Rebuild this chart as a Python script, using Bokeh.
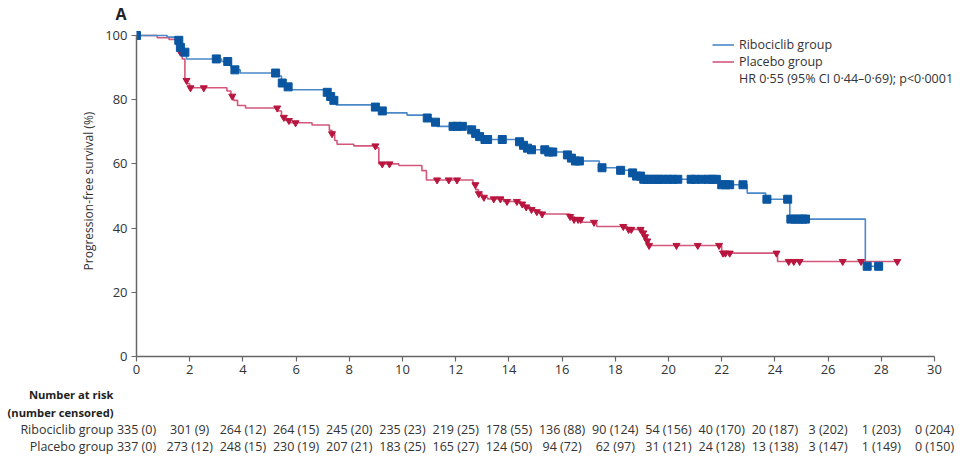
import numpy as np
from bokeh.plotting import figure
from bokeh.models import Range1d, Legend, LegendItem, FixedTicker
from bokeh.embed import file_html
from bokeh.resources import INLINE
from bokeh.core.properties import value

# ---------------- data ----------------
rib_step_t = [0, 1.15, 1.55, 1.65, 1.78, 1.88, 3.2, 3.55, 3.7, 3.9, 5.3, 5.45, 5.6, 5.75,
              7.15, 7.3, 7.4, 7.5, 8.95, 9.15, 9.3, 10.17, 10.85, 11.1, 11.3, 12.6, 12.75,
              12.9, 13.05, 14.4, 14.55, 14.7, 14.85, 15.5, 16.2, 16.35, 16.5, 17.4, 18.15,
              18.65, 18.8, 19.0, 21.9, 22.96, 23.65, 24.56, 27.4]
rib_step_s = [100, 99.5, 98.5, 96.3, 94.8, 92.7, 91.9, 90.2, 89.3, 88.3, 87.4, 85.2, 84.0, 83.1,
              82.3, 81.0, 79.8, 78.4, 77.7, 76.5, 75.9, 75.2, 74.3, 73.0, 71.7, 70.6, 69.5,
              68.5, 67.6, 66.9, 65.8, 64.9, 64.4, 63.7, 62.8, 61.8, 60.9, 58.8, 58.0,
              57.2, 56.2, 55.2, 53.5, 50.9, 49.0, 42.8, 28.1]
rib_end = 27.9
rib_cens = [0, 1.59, 1.65, 1.82, 3.0, 3.43, 3.7, 5.23, 5.48, 5.7, 7.17, 7.3, 7.42, 8.98, 9.24,
            10.93, 11.24, 11.9, 12.05, 12.25, 12.6, 12.75, 12.9, 13.1, 13.2, 13.75, 14.4,
            14.55, 14.7, 14.85, 15.35, 15.5, 15.65, 16.2, 16.35, 16.5, 16.65, 17.5, 18.2,
            18.65, 18.8, 18.95, 19.07, 19.2, 19.35, 19.5, 19.65, 19.8, 20.0, 20.15, 20.35,
            20.85, 21.0, 21.25, 21.5, 21.65, 21.8, 22.0, 22.15, 22.3, 22.8, 23.7, 24.48,
            24.6, 24.75, 24.9, 25.05, 25.15, 27.47, 27.9]

pla_step_t = [0, 0.78, 1.22, 1.55, 1.62, 1.72, 1.82, 1.9, 2.0, 3.4, 3.55, 3.65, 3.8, 4.1,
              5.3, 5.45, 5.6, 5.75, 6.6, 7.25, 7.35, 7.45, 7.54, 8.17, 9.0, 9.11, 9.86,
              10.73, 10.9, 12.65, 12.75, 12.85, 13.0, 13.2, 13.8, 14.45, 14.6, 14.8, 15.0,
              15.25, 16.3, 16.45, 16.75, 17.3, 18.45, 19.05, 19.12, 19.2, 19.27, 22.0, 24.1]
pla_step_s = [100, 99.3, 98.8, 97.0, 94.8, 92.7, 86.0, 85.0, 83.7, 82.7, 81.1, 79.8, 78.2, 77.4,
              76.5, 74.5, 73.5, 72.8, 72.1, 70.5, 69.4, 67.3, 66.1, 65.6, 65.0, 60.0, 59.5,
              57.9, 55.0, 53.5, 52.0, 50.7, 49.6, 49.1, 48.3, 47.5, 46.6, 45.8, 45.1,
              44.4, 43.6, 42.7, 41.8, 40.5, 39.6, 38.5, 37.3, 36.0, 34.6, 32.2, 29.6]
pla_end = 28.6
pla_cens = [1.65, 1.88, 2.03, 2.53, 3.6, 5.29, 5.54, 5.73, 5.98, 7.35, 8.98, 9.24, 9.51,
            11.3, 11.74, 12.05, 12.74, 12.87, 13.06, 13.43, 13.68, 13.93, 14.3, 14.5, 14.65,
            14.85, 15.05, 15.25, 16.3, 16.45, 16.6, 16.7, 17.2, 18.3, 18.5, 18.6, 18.95,
            19.05, 19.12, 19.2, 19.27, 20.3, 21.1, 21.9, 22.05, 22.14, 22.3, 24.06, 24.52,
            24.71, 24.93, 26.55, 27.24, 28.6]

x_ticks = list(range(0, 31, 2))
y_ticks = [0, 20, 40, 60, 80, 100]
risk_rib = ["335 (0)", "301 (9)", "264 (12)", "264 (15)", "245 (20)", "235 (23)", "219 (25)",
            "178 (55)", "136 (88)", "90 (124)", "54 (156)", "40 (170)", "20 (187)",
            "3 (202)", "1 (203)", "0 (204)"]
risk_pla = ["337 (0)", "273 (12)", "248 (15)", "230 (19)", "207 (21)", "183 (25)", "165 (27)",
            "124 (50)", "94 (72)", "62 (97)", "31 (121)", "24 (128)", "13 (138)",
            "3 (147)", "1 (149)", "0 (150)"]
group_names = ["Ribociclib group", "Placebo group"]
hr_text = "HR 0·55 (95% CI 0·44–0·69); p<0·0001"

# ---------------- layout constants ----------------
W = 958
H_MAIN = 386
H_TAB = 74
X0_PX, X30_PX = 136, 934       # canvas x of x=0 and x=30
Y100_PX, Y0_PX = 35, 356       # canvas y of y=100 and y=0
TOP = 25                       # frame top (canvas), below the title panel
sx = (X30_PX - X0_PX) / 30.0
sy = (Y0_PX - Y100_PX) / 100.0

FONT = "Open Sans"
BLUE_L, BLUE_M = "#4a88c8", "#0a56a0"
RED_L, RED_M = "#d2577b", "#b8163f"
AX = "#666666"

p = figure(width=W, height=H_MAIN, output_backend="svg", toolbar_location=None,
           x_range=Range1d(0, (W - X0_PX) / sx), y_range=Range1d(0, (Y0_PX - TOP) / sy),
           min_border_left=X0_PX, min_border_right=0, min_border_top=TOP,
           min_border_bottom=H_MAIN - Y0_PX, title="A")
p.title.text_font = FONT
p.title.text_font_size = "16px"
p.title.text_font_style = "bold"
p.title.text_color = "#222222"
p.title.align = "left"
p.title.offset = -21
p.title.standoff = 1
p.outline_line_color = None
p.grid.visible = False

p.xaxis.ticker = FixedTicker(ticks=x_ticks)
p.yaxis.ticker = FixedTicker(ticks=y_ticks)
p.xaxis.bounds = (0, 30)
p.yaxis.bounds = (0, 100)
for ax in (p.xaxis, p.yaxis):
    ax.axis_line_color = AX
    ax.axis_line_width = 1.5
    ax.major_tick_line_color = AX
    ax.major_tick_line_width = 1.2
    ax.major_tick_out = 5
    ax.major_tick_in = 0
    ax.minor_tick_line_color = None
    ax.major_label_text_font = FONT
    ax.major_label_text_font_size = "13px"
    ax.major_label_text_color = "#333333"
p.xaxis.major_label_standoff = 3
p.yaxis.major_label_standoff = 4
p.yaxis.axis_label = "Progression-free survival (%)"
p.yaxis.axis_label_text_font = FONT
p.yaxis.axis_label_text_font_size = "12px"
p.yaxis.axis_label_text_font_style = "normal"
p.yaxis.axis_label_text_color = "#333333"
p.yaxis.axis_label_standoff = 5


def step_value(ts, ss, c):
    idx = np.searchsorted(np.array(ts), c, side="right") - 1
    return np.array(ss)[idx]


def curve(ts, ss, end):
    return list(ts) + [end], list(ss) + [ss[-1]]


rx, ry = curve(rib_step_t, rib_step_s, rib_end)
px_, py_ = curve(pla_step_t, pla_step_s, pla_end)
r_pla = p.step(px_, py_, mode="after", line_color=RED_L, line_width=1.6)
r_rib = p.step(rx, ry, mode="after", line_color=BLUE_L, line_width=1.6)

p.scatter(pla_cens, step_value(pla_step_t, pla_step_s, pla_cens), marker="inverted_triangle",
          size=7, fill_color=RED_M, line_color=RED_M)
p.scatter(rib_cens, step_value(rib_step_t, rib_step_s, rib_cens), marker="square",
          size=8, fill_color=BLUE_M, line_color=BLUE_M)

dummy = p.line([], [], line_alpha=0)
legend = Legend(items=[LegendItem(label=group_names[0], renderers=[r_rib]),
                       LegendItem(label=group_names[1], renderers=[r_pla]),
                       LegendItem(label=hr_text, renderers=[dummy])],
                location=(576, 269))
legend.padding = 0
legend.margin = 0
legend.spacing = 0
legend.label_height = 15
legend.glyph_height = 15
legend.glyph_width = 22
legend.label_standoff = 5
legend.label_text_font = FONT
legend.label_text_font_size = "12.5px"
legend.label_text_color = "#333333"
legend.border_line_alpha = 0
legend.background_fill_alpha = 0
p.add_layout(legend)

# ---------------- number at risk table ----------------
t = figure(width=W, height=H_TAB, output_backend="svg", toolbar_location=None,
           x_range=Range1d(-X0_PX / sx, (W - X0_PX) / sx), y_range=Range1d(H_TAB, 0),
           min_border_left=0, min_border_right=0, min_border_top=0, min_border_bottom=0,
           x_axis_location=None, y_axis_location=None)
t.outline_line_color = None
t.grid.visible = False

row_y = [8, 25.7, 43.3, 60]
lab_x = (113 - X0_PX) / sx
t.text(x=[lab_x, lab_x], y=row_y[:2], text=["Number at risk", "(number censored)"],
       text_font=value(FONT), text_font_size="11.2px", text_font_style="bold",
       text_align="right", text_baseline="middle", text_color="#222222")
t.text(x=[lab_x, lab_x], y=row_y[2:], text=group_names,
       text_font=value(FONT), text_font_size="12.5px",
       text_align="right", text_baseline="middle", text_color="#333333")
t.text(x=x_ticks, y=[row_y[2]] * len(x_ticks), text=risk_rib,
       text_font=value(FONT), text_font_size="12.5px",
       text_align="center", text_baseline="middle", text_color="#333333")
t.text(x=x_ticks, y=[row_y[3]] * len(x_ticks), text=risk_pla,
       text_font=value(FONT), text_font_size="12.5px",
       text_align="center", text_baseline="middle", text_color="#333333")

open("out.html", "w").write(file_html([p, t], INLINE))
